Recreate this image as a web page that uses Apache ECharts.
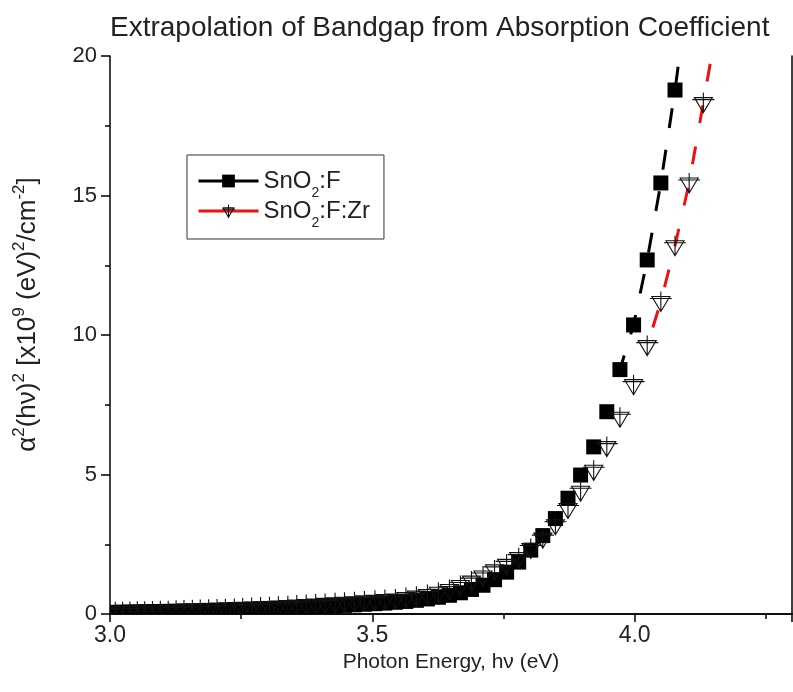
<!DOCTYPE html>
<html>
<head>
<meta charset="utf-8">
<script src="https://cdn.jsdelivr.net/npm/echarts@6/dist/echarts.min.js"></script>
<style>
  html, body { margin: 0; padding: 0; background: #ffffff; }
  #chart { width: 793px; height: 692px; }
</style>
</head>
<body>
<div id="chart"></div>
<script>
// Photon energy (eV) of each measured point, shared by both films
const photonEnergy = [
  4.158, 4.131, 4.104, 4.077, 4.050, 4.024, 3.998, 3.972, 3.947, 3.922,
  3.897, 3.873, 3.849, 3.825, 3.802, 3.779, 3.756, 3.733, 3.711, 3.689,
  3.668, 3.647, 3.626, 3.605, 3.584, 3.564, 3.544, 3.524, 3.505, 3.485,
  3.466, 3.447, 3.429, 3.410, 3.392, 3.374, 3.356, 3.339, 3.321, 3.304,
  3.287, 3.270, 3.253, 3.237, 3.220, 3.204, 3.188, 3.172, 3.157, 3.141,
  3.126, 3.111, 3.096, 3.081, 3.066, 3.052, 3.038, 3.024, 3.010, 2.996
];

// (alpha*h*nu)^2 in units of 1e9 (eV)^2/cm^-2 — SnO2:F film
const alphaSqSnOF = [
  null, null, 22.6, 18.78, 15.45, 12.69, 10.36, 8.76, 7.25, 5.99,
  4.98, 4.15, 3.42, 2.81, 2.29, 1.86, 1.50, 1.23, 1.03, 0.88,
  0.76, 0.67, 0.60, 0.54, 0.49, 0.45, 0.42, 0.39, 0.37, 0.35,
  0.33, 0.31, 0.29, 0.28, 0.26, 0.25, 0.23, 0.22, 0.21, 0.20,
  0.19, 0.18, 0.17, 0.16, 0.15, 0.14, 0.13, 0.12, 0.115, 0.11,
  0.10, 0.095, 0.09, 0.085, 0.08, 0.075, 0.07, 0.065, 0.06, 0.055
];

// (alpha*h*nu)^2 in units of 1e9 (eV)^2/cm^-2 — SnO2:F:Zr film
const alphaSqSnOFZr = [
  21.2, 18.33, 15.45, 13.2, 11.2, 9.62, 8.22, 7.05, 6.0, 5.15,
  4.40, 3.78, 3.20, 2.72, 2.35, 2.02, 1.78, 1.58, 1.36, 1.18,
  1.02, 0.88, 0.78, 0.70, 0.64, 0.59, 0.54, 0.52, 0.49, 0.47,
  0.44, 0.42, 0.40, 0.38, 0.36, 0.34, 0.32, 0.30, 0.28, 0.26,
  0.25, 0.23, 0.22, 0.20, 0.19, 0.18, 0.17, 0.16, 0.15, 0.14,
  0.13, 0.12, 0.115, 0.11, 0.10, 0.095, 0.09, 0.085, 0.08, 0.075
];

// Lowest photon energy included in each dashed extrapolation line
const extrapolationStartF = 3.972;
const extrapolationStartFZr = 4.024;

const seriesNames = ['SnO2:F', 'SnO2:F:Zr'];
const xRange = [3.0, 4.3];
const xStep = 0.5;
const yRange = [0, 20];
const yStep = 5;

function pairs(values, fromEnergy) {
  const out = [];
  photonEnergy.forEach((e, i) => {
    if (values[i] !== null && e >= fromEnergy) out.push([e, values[i]]);
  });
  return out;
}
const pointsF = pairs(alphaSqSnOF, -Infinity);
const pointsFZr = pairs(alphaSqSnOFZr, -Infinity);
const lineF = pairs(alphaSqSnOF, extrapolationStartF - 1e-6);
const lineFZr = pairs(alphaSqSnOFZr, extrapolationStartFZr - 1e-6);

// Down-pointing triangle with a cross through it
const triPath = 'M11 0 L11 20 M0 7 L22 7 M2 5 L20 5 L11 20 Z';

const FONT = 'Liberation Sans, Arial, sans-serif';
const TXT = '#222';
const RED = '#ee1111';

// "SnO2:F" -> "SnO" + subscript "2" + ":F"
function legendLabel(name) {
  const parts = name.split('2');
  return '{m|' + parts[0] + '}{sub|2}{m|' + parts.slice(1).join('2') + '}';
}

function squareItem(params, api) {
  const p = api.coord([api.value(0), api.value(1)]);
  return {
    type: 'rect',
    shape: { x: p[0] - 7.5, y: p[1] - 7.5, width: 15, height: 15 },
    style: { fill: '#000' }
  };
}

function triangleItem(params, api) {
  const p = api.coord([api.value(0), api.value(1)]);
  return {
    type: 'path',
    shape: { pathData: triPath, layout: 'cover', x: p[0] - 11, y: p[1] - 10, width: 22, height: 20 },
    style: { fill: 'none', stroke: '#111', lineWidth: 1.1 }
  };
}

const frameLine = { show: true, lineStyle: { color: '#000', width: 1.5 } };
const tickStyle = { color: '#000', width: 1.5 };

const chart = echarts.init(document.getElementById('chart'), null, { renderer: 'canvas' });

chart.setOption({
  backgroundColor: '#ffffff',
  animation: false,
  textStyle: { fontFamily: FONT },
  title: {
    text: 'Extrapolation of Bandgap from Absorption Coefficient',
    left: 110,
    top: 14,
    padding: 0,
    textStyle: { fontFamily: FONT, fontSize: 28, fontWeight: 'normal', color: TXT }
  },
  legend: {
    data: [
      { name: seriesNames[0], itemStyle: { color: '#000' }, lineStyle: { color: '#000' } },
      {
        name: seriesNames[1],
        itemStyle: { color: 'rgba(255,255,255,0)', borderColor: '#111', borderWidth: 1.1 },
        lineStyle: { color: RED }
      }
    ],
    orient: 'vertical',
    left: 187,
    top: 155,
    padding: [14, 14, 9, 10],
    itemGap: -1,
    itemWidth: 60,
    itemHeight: 16,
    borderColor: '#333',
    borderWidth: 1,
    lineStyle: { type: 'solid', width: 3 },
    formatter: legendLabel,
    textStyle: {
      fontFamily: FONT,
      fontSize: 24,
      color: TXT,
      rich: {
        m: { fontFamily: FONT, fontSize: 24, color: TXT, lineHeight: 28, verticalAlign: 'middle' },
        sub: { fontFamily: FONT, fontSize: 14, color: TXT, lineHeight: 38, verticalAlign: 'bottom' }
      }
    }
  },
  grid: { left: 110, right: 1, top: 56, bottom: 78 },
  xAxis: [
    {
      type: 'value',
      position: 'bottom',
      min: xRange[0],
      max: xRange[1],
      interval: xStep,
      z: 10,
      axisLine: frameLine,
      axisTick: { show: true, inside: false, length: 8, lineStyle: tickStyle },
      minorTick: { show: true, splitNumber: 2, length: 5, lineStyle: tickStyle },
      splitLine: { show: false },
      axisLabel: {
        showMaxLabel: false,
        margin: 10,
        fontSize: 23,
        color: TXT,
        fontFamily: FONT,
        formatter: v => v.toFixed(1)
      },
      name: 'Photon Energy, hν (eV)',
      nameLocation: 'middle',
      nameGap: 36,
      nameTextStyle: { fontFamily: FONT, fontSize: 21, color: TXT }
    },
    {
      type: 'value',
      position: 'top',
      min: xRange[0],
      max: xRange[1],
      interval: xStep,
      z: 10,
      axisLine: frameLine,
      axisTick: { show: false },
      axisLabel: { show: false },
      splitLine: { show: false }
    }
  ],
  yAxis: [
    {
      type: 'value',
      position: 'left',
      min: yRange[0],
      max: yRange[1],
      interval: yStep,
      z: 10,
      axisLine: frameLine,
      axisTick: { show: true, inside: false, length: 9, lineStyle: tickStyle },
      minorTick: { show: true, splitNumber: 2, length: 5, lineStyle: tickStyle },
      splitLine: { show: false },
      axisLabel: { margin: 13, fontSize: 22, color: TXT, fontFamily: FONT },
      name: 'α{sup|2}(hν){sup|2} [x10{sup|9} (eV){sup|2}/cm{sup|-2}]',
      nameLocation: 'middle',
      nameGap: 65,
      nameTextStyle: {
        fontFamily: FONT,
        fontSize: 26,
        color: TXT,
        lineHeight: 34,
        padding: [0, 0, 0, 41],
        rich: {
          sup: { fontFamily: FONT, fontSize: 17, color: TXT, lineHeight: 17, verticalAlign: 'top' }
        }
      }
    },
    {
      type: 'value',
      position: 'right',
      min: yRange[0],
      max: yRange[1],
      interval: yStep,
      z: 10,
      axisLine: frameLine,
      axisTick: { show: false },
      axisLabel: { show: false },
      splitLine: { show: false }
    }
  ],
  series: [
    {
      name: seriesNames[0],
      type: 'line',
      data: lineF,
      showSymbol: false,
      symbol: 'rect',
      itemStyle: { color: '#000' },
      lineStyle: { color: '#000', width: 3, type: [20, 22] },
      clip: true,
      z: 2
    },
    {
      name: 'SnO2:F markers',
      type: 'custom',
      data: pointsF,
      renderItem: squareItem,
      encode: { x: 0, y: 1 },
      clip: true,
      z: 3
    },
    {
      name: seriesNames[1],
      type: 'line',
      data: lineFZr,
      showSymbol: false,
      symbol: 'path://' + triPath,
      itemStyle: { color: 'rgba(255,255,255,0)', borderColor: '#111', borderWidth: 1 },
      lineStyle: { color: RED, width: 3, type: [18, 24] },
      clip: true,
      z: 2
    },
    {
      name: 'SnO2:F:Zr markers',
      type: 'custom',
      data: pointsFZr,
      renderItem: triangleItem,
      encode: { x: 0, y: 1 },
      clip: true,
      z: 4
    }
  ]
});
</script>
</body>
</html>
